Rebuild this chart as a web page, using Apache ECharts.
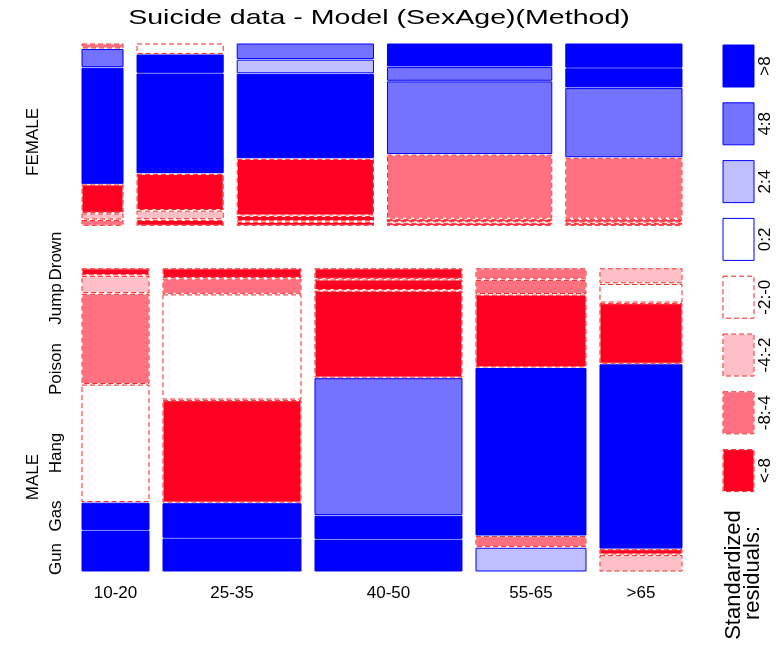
<!DOCTYPE html>
<html><head><meta charset="utf-8">
<script src="https://cdn.jsdelivr.net/npm/echarts@6/dist/echarts.min.js"></script>
<style>html,body{margin:0;padding:0;background:#fff}#c{width:783px;height:648px}</style>
</head><body><div id="c"></div>
<script>
// ---------- data ----------
const sexes = ['FEMALE', 'MALE'];
const ages = ['10-20', '25-35', '40-50', '55-65', '>65'];
const methods = ['Gun', 'Gas', 'Hang', 'Poison', 'Jump', 'Drown']; // bottom -> top
// counts [age][method]
const femaleCounts = [
  [37, 39, 215, 902, 134, 31],
  [82, 125, 579, 1625, 286, 154],
  [77, 111, 1445, 2168, 328, 379],
  [63, 63, 1975, 2248, 398, 690],
  [37, 51, 1327, 1512, 403, 515]
];
const maleCounts = [
  [502, 330, 1463, 1121, 204, 75],
  [829, 870, 2624, 2694, 370, 223],
  [853, 614, 3744, 2368, 264, 264],
  [469, 207, 3433, 1481, 269, 207],
  [237, 66, 2817, 916, 272, 215]
];
// standardized residuals (estimated) [age][method]
const femaleResid = [
  [-6, -3, -10, 10, 6, -6],
  [-10, -3, -10, 10, 10, -1],
  [-10, -10, -10, 10, 3, 6],
  [-10, -10, -6, 6, 6, 10],
  [-10, -10, -6, 6, 10, 10]
];
const maleResid = [
  [10, 10, -1, -6, -3, -10],
  [10, 10, -10, -1, -6, -10],
  [10, 10, 6, -10, -10, -10],
  [3, -6, 10, -10, -6, -6],
  [-3, -10, 10, -10, -1, -3]
];
const legendLabels = ['>8', '4:8', '2:4', '0:2', '-2:-0', '-4:-2', '-8:-4', '<-8'];

// ---------- styling ----------
const FONT = '"Liberation Sans", Arial, sans-serif';
const fills = ['#0000ff', '#7373ff', '#bfbfff', '#ffffff', '#ffffff', '#ffbfc6', '#ff7080', '#ff0022'];
function cls(r) {
  if (r > 8) return 0; if (r > 4) return 1; if (r > 2) return 2; if (r > 0) return 3;
  if (r >= -2) return 4; if (r >= -4) return 5; if (r >= -8) return 6; return 7;
}

// ---------- layout (in grid units) ----------
const W = 600, H = 527, colGap = 14, rowGap = 1.6, sexGap = 43.5;
const counts = [femaleCounts, maleCounts];
const resid = [femaleResid, maleResid];
const sum = a => a.reduce((p, q) => p + q, 0);
const sexTot = counts.map(c => sum(c.map(sum)));
const grand = sum(sexTot);
const cells = [];
const ageCenters = [];
let yTop = 0;
counts.forEach((cArr, s) => {
  const h = (H - sexGap) * sexTot[s] / grand;
  const colAvail = W - (ages.length - 1) * colGap;
  let x = 0;
  cArr.forEach((row, a) => {
    const aTot = sum(row);
    const w = colAvail * aTot / sexTot[s];
    if (s === 1) ageCenters.push([x + w / 2, a]);
    const rowAvail = h - (methods.length - 1) * rowGap;
    let yb = yTop + h;
    row.forEach((v, m) => {
      const ch = rowAvail * v / aTot;
      cells.push([x, x + w, yb - ch, yb, cls(resid[s][a][m])]);
      yb = yb - ch - rowGap;
    });
    x += w + colGap;
  });
  yTop += h + sexGap;
});

const chart = echarts.init(document.getElementById('c'), null, { renderer: 'canvas' });
const tstyle = (text, size) => ({ text, fontSize: size, fontFamily: FONT, fill: '#000', align: 'center', verticalAlign: 'middle' });

const graphics = [];
graphics.push({ type: 'text', x: 379, y: 18, scaleX: 1.36, style: tstyle('Suicide data - Model (SexAge)(Method)', 21) });
graphics.push({ type: 'text', x: 33, y: 142, rotation: Math.PI / 2, style: tstyle('FEMALE', 17) });
graphics.push({ type: 'text', x: 33, y: 477, rotation: Math.PI / 2, style: tstyle('MALE', 17) });
const methodLabelY = [559, 516, 453, 369, 304, 256];
methods.forEach((m, i) => graphics.push({ type: 'text', x: 56, y: methodLabelY[i], rotation: Math.PI / 2, style: tstyle(m, 17) }));
// legend
legendLabels.forEach((lab, i) => {
  const y0 = 45 + i * 57.8;
  const neg = i >= 4;
  graphics.push({ type: 'rect', shape: { x: 723, y: y0, width: 31, height: 42 },
    style: { fill: fills[i], stroke: neg ? '#ffffff' : '#0000ff', lineWidth: 1 } });
  if (neg) graphics.push({ type: 'rect', shape: { x: 723, y: y0, width: 31, height: 42 },
    style: { fill: 'none', stroke: '#ff2020', lineWidth: 1, lineDash: [5, 3] } });
  graphics.push({ type: 'text', x: 765, y: y0 + 21, rotation: Math.PI / 2, style: tstyle(lab, 17) });
});
graphics.push({ type: 'text', x: 734, y: 575, rotation: Math.PI / 2, style: tstyle('Standardized', 22) });
graphics.push({ type: 'text', x: 753, y: 573, rotation: Math.PI / 2, style: tstyle('residuals:', 22) });

chart.setOption({
  animation: false,
  backgroundColor: '#ffffff',
  grid: { left: 82, top: 44, width: W, height: H, containLabel: false },
  xAxis: { type: 'value', min: 0, max: W, show: false },
  yAxis: { type: 'value', min: 0, max: H, inverse: true, show: false },
  graphic: graphics,
  series: [
    {
      type: 'custom',
      coordinateSystem: 'cartesian2d',
      data: cells,
      clip: false,
      renderItem: function (params, api) {
        const p0 = api.coord([api.value(0), api.value(2)]);
        const p1 = api.coord([api.value(1), api.value(3)]);
        const c = api.value(4);
        const shape = { x: p0[0], y: p0[1], width: p1[0] - p0[0], height: Math.max(p1[1] - p0[1], 0.5) };
        if (c < 4) {
          return { type: 'rect', shape, style: { fill: fills[c], stroke: '#0000ff', lineWidth: 1 } };
        }
        return {
          type: 'group', children: [
            { type: 'rect', shape, style: { fill: fills[c], stroke: '#ffffff', lineWidth: 1 } },
            { type: 'rect', shape, style: { fill: 'none', stroke: '#ff2020', lineWidth: 1, lineDash: [5, 3] } }
          ]
        };
      }
    },
    {
      type: 'custom',
      coordinateSystem: 'cartesian2d',
      data: ageCenters,
      clip: false,
      renderItem: function (params, api) {
        const p = api.coord([api.value(0), H]);
        return { type: 'text', x: p[0], y: p[1] + 22, style: tstyle(ages[api.value(1)], 17) };
      }
    }
  ]
});
</script>
</body></html>
